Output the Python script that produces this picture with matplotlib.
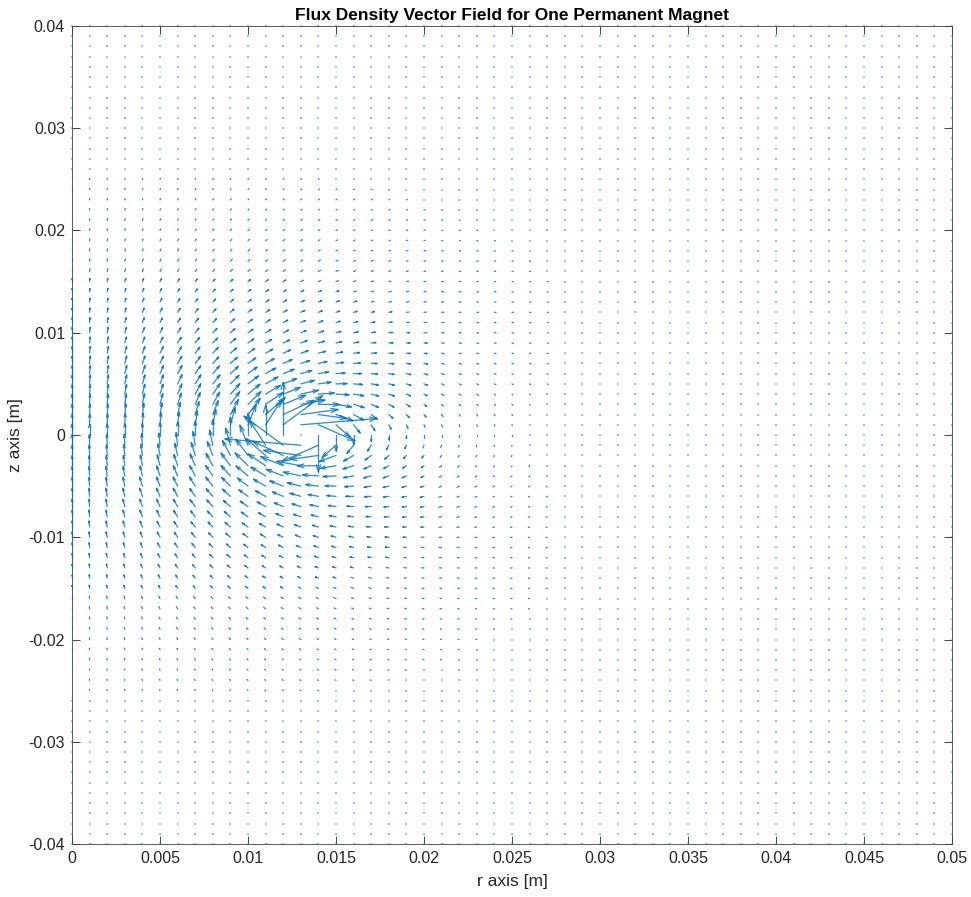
import numpy as np
import matplotlib
matplotlib.use("Agg")
import matplotlib.pyplot as plt
from matplotlib.collections import LineCollection

plt.rcParams['font.family'] = ['Liberation Sans', 'DejaVu Sans']

# grid where the field is sampled (m)
r_axis = np.round(np.arange(0, 0.0505, 0.001), 4)
z_axis = np.round(np.arange(-0.04, 0.0405, 0.001), 4)

# magnet modelled as a single current loop
loop_radius = 0.013
loop_z = 0.0
centre_arrow = 0.00105   # arrow length at r=0, z=0 (m)

x_ticks = [0, 0.005, 0.01, 0.015, 0.02, 0.025, 0.03, 0.035, 0.04, 0.045, 0.05]
x_tick_labels = ['0', '0.005', '0.01', '0.015', '0.02', '0.025', '0.03', '0.035', '0.04', '0.045', '0.05']
y_ticks = [-0.04, -0.03, -0.02, -0.01, 0, 0.01, 0.02, 0.03, 0.04]
y_tick_labels = ['-0.04', '-0.03', '-0.02', '-0.01', '0', '0.01', '0.02', '0.03', '0.04']


def ellip_ke(m):
    # complete elliptic integrals K(m), E(m) by AGM
    a = np.ones_like(m)
    b = np.sqrt(np.clip(1 - m, 0, None))
    s = 0.5 * m
    w = 0.5
    for _ in range(8):
        c = (a - b) / 2
        a, b = (a + b) / 2, np.sqrt(a * b)
        w *= 2
        s += w * c ** 2
    K = np.pi / (2 * a)
    return K, K * (1 - s)


R, Z = np.meshgrid(r_axis, z_axis)
a = loop_radius
zeta = Z - loop_z
q = (a + R) ** 2 + zeta ** 2
d2 = (a - R) ** 2 + zeta ** 2
singular = d2 < 1e-12
d2 = np.where(singular, 1.0, d2)
m = np.where(singular, 0.5, 4 * a * R / q)
K, E = ellip_ke(m)
Bz = (K + (a ** 2 - R ** 2 - zeta ** 2) / d2 * E) / np.sqrt(q)
Rs = np.where(R == 0, 1.0, R)
Br = np.where(R == 0, 0.0, zeta / (Rs * np.sqrt(q)) * (-K + (a ** 2 + R ** 2 + zeta ** 2) / d2 * E))
Bz[singular] = 0
Br[singular] = 0

# normalise to the centre value pi/a
U = Br / (np.pi / a) * centre_arrow
V = Bz / (np.pi / a) * centre_arrow

W, H = 971, 897
fig = plt.figure(figsize=(W / 100, H / 100), dpi=100)
ax = fig.add_axes([72 / W, 1 - 844 / H, (952 - 72) / W, (844 - 26) / H])
ax.set_xlim(0, 0.05)
ax.set_ylim(-0.04, 0.04)

# MATLAB-like line arrows (shaft + open head), head built in pixel space
sx = (952 - 72) / 0.05
sy = (844 - 26) / 0.08
x0 = R.ravel(); y0 = Z.ravel()
u = U.ravel(); v = V.ravel()
x1 = x0 + u; y1 = y0 + v
pu = u * sx; pv = v * sy
L = np.hypot(pu, pv)
Ls = np.where(L == 0, 1, L)
dx = pu / Ls; dy = pv / Ls
hl = np.minimum(0.3 * L, 7.0)
hw = 0.3 * hl
segs = []
for i in range(len(x0)):
    if L[i] < 1.0:
        continue
    segs.append([(x0[i], y0[i]), (x1[i], y1[i])])
    if L[i] > 3.0:
        bx = -dx[i] * hl[i]; by = -dy[i] * hl[i]
        nx = -dy[i] * hw[i]; ny = dx[i] * hw[i]
        segs.append([(x1[i] + (bx + nx) / sx, y1[i] + (by + ny) / sy),
                     (x1[i], y1[i]),
                     (x1[i] + (bx - nx) / sx, y1[i] + (by - ny) / sy)])
ax.add_collection(LineCollection(segs, colors='#0072BD', linewidths=0.95, alpha=0.8,
                                 capstyle='round', joinstyle='round', zorder=3, clip_on=False))

# sub-pixel vectors show as faint dots
tiny = L < 1.0
ax.scatter(x0[tiny], y0[tiny], s=1.4, marker='s', color='#0072BD', alpha=0.4,
           linewidths=0, zorder=3, clip_on=False)

ax.set_xticks(x_ticks)
ax.set_xticklabels(x_tick_labels)
ax.set_yticks(y_ticks)
ax.set_yticklabels(y_tick_labels)
ax.tick_params(direction='in', length=6, width=0.6, colors='#262626', labelsize=11.5,
               top=True, right=True, pad=5)
for sp in ax.spines.values():
    sp.set_color('#404040')
    sp.set_linewidth(0.6)

ax.set_title('Flux Density Vector Field for One Permanent Magnet', fontsize=12.5,
             fontweight='bold', pad=4)
ax.set_xlabel('r axis [m]', fontsize=12.5, color='#262626', labelpad=6)
ax.set_ylabel('z axis [m]', fontsize=12.5, color='#262626', labelpad=4)

fig.savefig('out.png', dpi=100)
